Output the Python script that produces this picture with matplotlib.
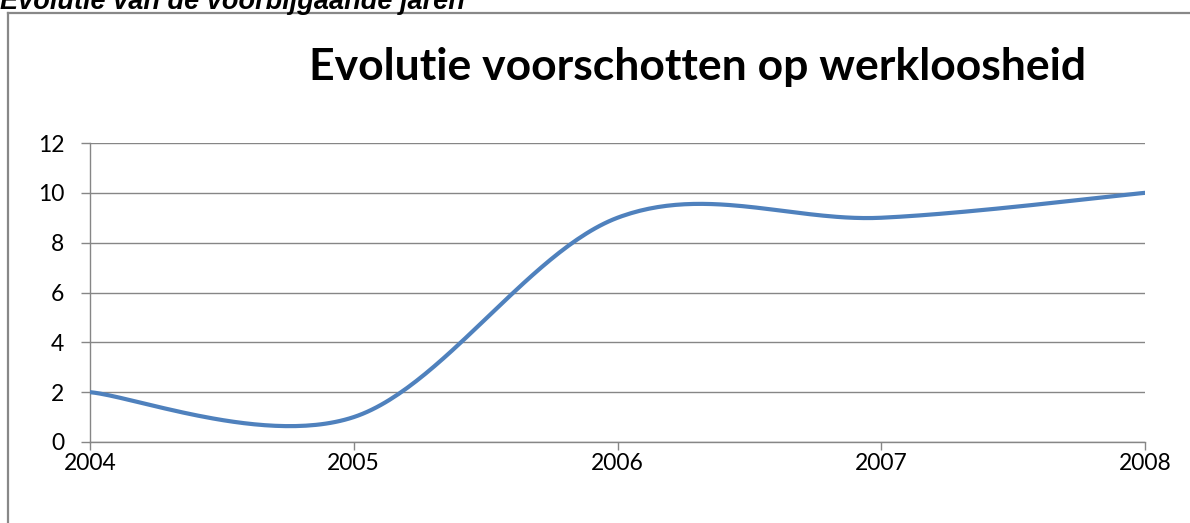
import numpy as np
import matplotlib
matplotlib.use("Agg")
import matplotlib.pyplot as plt
from matplotlib.lines import Line2D

years = [2004, 2005, 2006, 2007, 2008]
values = [2, 1, 9, 9, 10]
yticks = [0, 2, 4, 6, 8, 10, 12]
title = "Evolutie voorschotten op werkloosheid"
caption = "Evolutie van de voorbijgaande jaren"


def smooth(xs, ys, n=60):
    """Excel-like smoothed line: Catmull-Rom converted to cubic Bezier segments."""
    P = np.column_stack([xs, ys]).astype(float)
    m = len(P)
    out = []
    for i in range(m - 1):
        p0 = P[i - 1] if i > 0 else P[i]
        p1 = P[i]
        p2 = P[i + 1]
        p3 = P[i + 2] if i + 2 < m else P[i + 1]
        c1 = p1 + (p2 - p0) / 6.0
        c2 = p2 - (p3 - p1) / 6.0
        t = np.linspace(0, 1, n)[:, None]
        seg = ((1 - t) ** 3) * p1 + 3 * ((1 - t) ** 2) * t * c1 + 3 * (1 - t) * t ** 2 * c2 + t ** 3 * p2
        out.append(seg if i == 0 else seg[1:])
    arr = np.vstack(out)
    return arr[:, 0], arr[:, 1]


W, H = 1190, 523
fig = plt.figure(figsize=(W / 100, H / 100), dpi=100)
fig.patch.set_facecolor("white")

ax = fig.add_axes([90 / W, 1 - 442 / H, (1145 - 90) / W, (442 - 143) / H])
sx, sy = smooth(years, values)
ax.plot(sx, sy, color="#4F81BD", lw=3.0, solid_capstyle="round", zorder=3)

ax.set_xlim(years[0], years[-1])
ax.set_ylim(yticks[0], yticks[-1])
ax.set_xticks(years)
ax.set_xticklabels([str(y) for y in years])
ax.set_yticks(yticks)
ax.set_yticklabels([str(v) for v in yticks])

for s in ["top", "right"]:
    ax.spines[s].set_visible(False)
for s in ["left", "bottom"]:
    ax.spines[s].set_color("#868686")
    ax.spines[s].set_linewidth(1.0)
ax.yaxis.grid(True, color="#868686", lw=1.0)
ax.set_axisbelow(True)

ax.tick_params(axis="y", direction="out", length=6.5, width=1.0, color="#868686", pad=12)
ax.tick_params(axis="x", direction="out", length=5.5, width=1.0, color="#868686", pad=2.5)
for lab in ax.get_xticklabels() + ax.get_yticklabels():
    lab.set_fontfamily(["Lato", "DejaVu Sans"])
    lab.set_fontsize(16.5)
    lab.set_color("#000000")

fig.text(698 / W, 1 - 80 / H, title, ha="center", va="baseline",
         fontsize=32, fontweight="bold", family=["Lato", "DejaVu Sans"])

fig.text(0.0, 1 - 9 / H, caption, ha="left", va="baseline",
         fontsize=19.5, fontweight="bold", fontstyle="italic",
         family=["Liberation Sans", "DejaVu Sans"])

# chart frame (left and top edges visible)
fig.add_artist(Line2D([7.5 / W, 7.5 / W], [0, 1 - 13 / H], color="#888888", lw=1.6))
fig.add_artist(Line2D([7.5 / W, 1.0], [1 - 13 / H, 1 - 13 / H], color="#888888", lw=1.6))

fig.savefig("out.png", dpi=100)
